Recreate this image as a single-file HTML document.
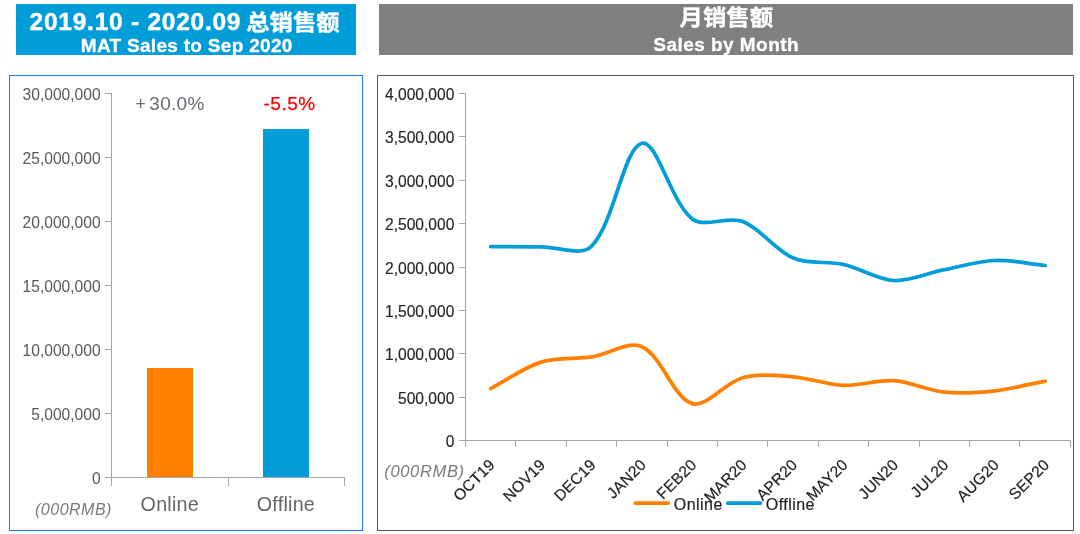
<!DOCTYPE html>
<html lang="zh"><head><meta charset="utf-8"><title>Sales</title>
<style>
html,body{margin:0;padding:0;background:#fff;}
body{width:1080px;height:534px;overflow:hidden;position:relative;}
svg{position:absolute;left:0;top:0;display:block;}
text{font-family:"Liberation Sans","Noto Sans CJK SC",sans-serif;}
.h1{font-weight:bold;font-size:24.5px;fill:#fff;letter-spacing:.75px;stroke:#fff;stroke-width:.4px;}
.cj{font-weight:bold;font-size:24px;fill:#fff;stroke:#fff;stroke-width:.35px;}
.h2{font-weight:bold;font-size:19px;fill:#fff;letter-spacing:.3px;stroke:#fff;stroke-width:.3px;}
.yl{font-size:15.6px;fill:#595959;text-anchor:end;}
.yr{font-size:15.6px;fill:#262626;stroke:#262626;stroke-width:.15px;text-anchor:end;}
.cat{font-size:19.7px;fill:#666;text-anchor:middle;letter-spacing:.25px;}
.unit{font-size:16px;font-style:italic;fill:#7a7a7a;letter-spacing:.5px;}
.xl{font-size:15.6px;fill:#1f1f1f;stroke:#1f1f1f;stroke-width:.2px;text-anchor:end;letter-spacing:.2px;}
.lg{font-size:16px;fill:#1f1f1f;stroke:#1f1f1f;stroke-width:.2px;letter-spacing:.45px;}
.pct{font-size:19px;letter-spacing:.5px;}
.ax{stroke:#a6a6a6;stroke-width:1;fill:none;shape-rendering:crispEdges;}
</style></head><body>
<svg width="1080" height="534" viewBox="0 0 1080 534">
<rect x="16" y="4" width="340" height="51" fill="#009dd9"/>
<rect x="379" y="4" width="694" height="51" fill="#808080"/>
<text class="h1" x="29.6" y="29.8">2019.10 - 2020.09</text>
<text class="cj" transform="translate(246.2 30.1) scale(0.975 0.92)">总销售额</text>
<text class="h2" x="186.7" y="51.8" text-anchor="middle">MAT Sales to Sep 2020</text>
<text class="cj" transform="translate(679.6 25.1) scale(0.975 0.92)">月销售额</text>
<text class="h2" x="726.2" y="50.8" text-anchor="middle" style="letter-spacing:.45px">Sales by Month</text>
<rect x="9.5" y="75.5" width="353" height="455" fill="#fff" stroke="#1a75ff" stroke-width="1" shape-rendering="crispEdges"/>
<rect x="377.5" y="75.5" width="696" height="455" fill="#fff" stroke="#595959" stroke-width="1" shape-rendering="crispEdges"/>
<rect x="147" y="368" width="46" height="109.5" fill="#ff8000"/>
<rect x="263" y="129" width="46" height="348.5" fill="#009dd9"/>
<text class="yl" x="100.6" y="99.9">30,000,000</text>
<text class="yl" x="100.6" y="163.9">25,000,000</text>
<text class="yl" x="100.6" y="227.9">20,000,000</text>
<text class="yl" x="100.6" y="291.9">15,000,000</text>
<text class="yl" x="100.6" y="355.9">10,000,000</text>
<text class="yl" x="100.6" y="419.9">5,000,000</text>
<text class="yl" x="100.6" y="483.9">0</text>
<path class="ax" d="M111.5 93V486M105 477.5H344.5M228.5 477.5V486M344.5 477.5V486M105 93.5H112M105 157.5H112M105 221.5H112M105 285.5H112M105 349.5H112M105 413.5H112"/>
<text class="cat" x="169.8" y="511.2">Online</text>
<text class="cat" x="285.9" y="511.2">Offline</text>
<text class="unit" x="35" y="515.4">(000RMB)</text>
<text class="pct" x="135.6" y="109.9" fill="#666b73" style="letter-spacing:.3px"><tspan style="font-size:17.5px">+</tspan><tspan x="149.3">30.0%</tspan></text>
<text class="pct" x="263.5" y="109.9" fill="#ff0000" stroke="#ff0000" stroke-width=".25">-5.5%</text>
<text class="yr" x="454.4" y="99.9">4,000,000</text>
<text class="yr" x="454.4" y="142.9">3,500,000</text>
<text class="yr" x="454.4" y="186.9">3,000,000</text>
<text class="yr" x="454.4" y="229.9">2,500,000</text>
<text class="yr" x="454.4" y="273.9">2,000,000</text>
<text class="yr" x="454.4" y="316.9">1,500,000</text>
<text class="yr" x="454.4" y="359.9">1,000,000</text>
<text class="yr" x="454.4" y="403.9">500,000</text>
<text class="yr" x="454.4" y="446.9">0</text>
<path class="ax" d="M465.5 93V447M459 440.5H1071M459 93.5H466M459 136.5H466M459 180.5H466M459 223.5H466M459 267.5H466M459 310.5H466M459 353.5H466M459 397.5H466M515.5 440.5V447M566.5 440.5V447M616.5 440.5V447M667.5 440.5V447M717.5 440.5V447M767.5 440.5V447M818.5 440.5V447M868.5 440.5V447M919.5 440.5V447M969.5 440.5V447M1019.5 440.5V447M1070.5 440.5V447"/>
<text class="unit" x="384.3" y="476.7" style="font-size:16.5px;letter-spacing:.65px">(000RMB)</text>
<text class="xl" transform="translate(495.9 465.8) rotate(-45)">OCT19</text>
<text class="xl" transform="translate(546.3 465.8) rotate(-45)">NOV19</text>
<text class="xl" transform="translate(596.7 465.8) rotate(-45)">DEC19</text>
<text class="xl" transform="translate(647.1 465.8) rotate(-45)">JAN20</text>
<text class="xl" transform="translate(697.5 465.8) rotate(-45)">FEB20</text>
<text class="xl" transform="translate(747.9 465.8) rotate(-45)">MAR20</text>
<text class="xl" transform="translate(798.4 465.8) rotate(-45)">APR20</text>
<text class="xl" transform="translate(848.8 465.8) rotate(-45)">MAY20</text>
<text class="xl" transform="translate(899.2 465.8) rotate(-45)">JUN20</text>
<text class="xl" transform="translate(949.6 465.8) rotate(-45)">JUL20</text>
<text class="xl" transform="translate(1000.0 465.8) rotate(-45)">AUG20</text>
<text class="xl" transform="translate(1050.4 465.8) rotate(-45)">SEP20</text>
<path d="M490.7 388.6C507.5 379.8 523.3 367.7 541.1 362.1C556.9 357.1 574.8 359.4 591.5 356.9C608.4 354.3 628.4 340.5 641.9 346.8C662.0 356.1 673.1 397.7 692.3 403.6C706.7 407.9 725.0 382.4 742.7 377.7C758.6 373.5 776.5 375.5 793.2 376.8C810.1 378.1 826.7 384.7 843.6 385.4C860.3 386.0 877.3 379.6 894.0 380.7C910.9 381.9 927.4 390.4 944.4 392.1C961.0 393.7 978.1 392.6 994.8 390.8C1011.7 388.9 1028.4 384.3 1045.2 381.1" fill="none" stroke="#ff8000" stroke-width="3.75" stroke-linecap="round" stroke-linejoin="round"/>
<path d="M490.7 246.6C507.5 246.7 524.3 246.9 541.1 246.8C557.9 246.7 581.3 256.7 591.5 246.2C614.9 222.2 623.2 148.2 641.9 143.2C656.8 139.1 670.7 202.1 692.3 218.9C704.3 228.2 727.7 215.8 742.7 221.6C761.3 228.8 774.7 250.2 793.2 258.0C808.3 264.5 827.1 260.9 843.6 264.5C860.7 268.3 877.0 279.6 894.0 280.5C910.6 281.3 927.5 273.0 944.4 269.7C961.1 266.4 977.9 261.2 994.8 260.5C1011.5 259.8 1028.4 263.8 1045.2 265.5" fill="none" stroke="#009dd9" stroke-width="3.75" stroke-linecap="round" stroke-linejoin="round"/>
<path d="M635.3 503H668.2" stroke="#ff8000" stroke-width="3.75" stroke-linecap="round"/>
<text class="lg" x="673.8" y="509.6">Online</text>
<path d="M727.7 503H760.4" stroke="#009dd9" stroke-width="3.75" stroke-linecap="round"/>
<text class="lg" x="765.8" y="509.6">Offline</text>
</svg></body></html>
